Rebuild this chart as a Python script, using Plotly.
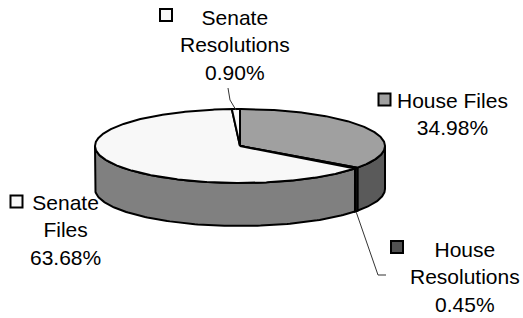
import numpy as np
import plotly.graph_objects as go

# ---- data ----
categories = ["House Files", "House Resolutions", "Senate Files", "Senate Resolutions"]
percentages = [34.98, 0.45, 63.68, 0.90]
top_colors = ["#A0A0A0", "#1E1E1E", "#F8F8F8", "#F8F8F8"]
side_colors = ["#5A5A5A", "#1E1E1E", "#808080", "#808080"]
legend_colors = ["#A0A0A0", "#505050", "#F8F8F8", "#F8F8F8"]
label_lines = [["House Files"], ["House", "Resolutions"], ["Senate", "Files"], ["Senate", "Resolutions"]]

# ---- layout geometry (pixels) ----
W, H = 523, 318
CX, CY, A, B, DEPTH = 240, 146, 145, 37, 43
FONT = dict(family="Liberation Sans, Arial, sans-serif", size=21, color="black")

label_pos = {  # text centre x, y ; legend key centre x, y
    "House Files": (452, 114, 384.5, 99.5),
    "House Resolutions": (465, 276.5, 397, 247),
    "Senate Files": (65, 230, 16.5, 201.5),
    "Senate Resolutions": (235, 44.5, 166, 15),
}


def pt(theta_deg, r=1.0, dy=0.0):
    t = np.radians(theta_deg)
    return CX + r * A * np.sin(t), CY - r * B * np.cos(t) + dy


fig = go.Figure()

# slice angles (clockwise from 12 o'clock)
total = sum(percentages)
bounds = []
start = 0.0
for p in percentages:
    end = start + 360.0 * p / total
    bounds.append((start, end))
    start = end

# side faces (only the front half, 90..270 deg, is visible)
for (s, e), col in zip(bounds, side_colors):
    lo, hi = max(s, 90.0), min(e, 270.0)
    if hi <= lo:
        continue
    th = np.linspace(lo, hi, 120)
    xt, yt = pt(th)
    xb, yb = pt(th[::-1], dy=DEPTH)
    xs = np.concatenate([xt, xb, xt[:1]])
    ys = np.concatenate([yt, yb, yt[:1]])
    fig.add_trace(go.Scatter(x=xs, y=ys, mode="lines", fill="toself", fillcolor=col,
                             line=dict(color="black", width=2), hoverinfo="skip", showlegend=False))

# top faces
for (s, e), col in zip(bounds, top_colors):
    th = np.linspace(s, e, max(int((e - s) * 2), 4))
    xa, ya = pt(th)
    xs = np.concatenate([[CX], xa, [CX]])
    ys = np.concatenate([[CY], ya, [CY]])
    fig.add_trace(go.Scatter(x=xs, y=ys, mode="lines", fill="toself", fillcolor=col,
                             line=dict(color="black", width=2), hoverinfo="skip", showlegend=False))

# leader lines
mid_sr = np.mean(bounds[3])
x0, y0 = pt(mid_sr, r=0.97)
fig.add_trace(go.Scatter(x=[x0, 230, 228], y=[y0, 100, 88], mode="lines",
                         line=dict(color="#333333", width=1), hoverinfo="skip", showlegend=False))
mid_hr = np.mean(bounds[1])
x1, y1 = pt(mid_hr, dy=DEPTH)
fig.add_trace(go.Scatter(x=[x1, 378, 386], y=[y1 + 1, 275, 275], mode="lines",
                         line=dict(color="#333333", width=1), hoverinfo="skip", showlegend=False))

# labels with legend keys
shapes = []
annotations = []
for cat, pct, lines, lcol in zip(categories, percentages, label_lines, legend_colors):
    tx, ty, kx, ky = label_pos[cat]
    text = "<br>".join(lines + [f"{pct:.2f}%"])
    annotations.append(dict(x=tx, y=ty, xref="x", yref="y", text=text, showarrow=False,
                            xanchor="center", yanchor="middle", align="center", font=FONT))
    k = 6
    shapes.append(dict(type="rect", xref="x", yref="y", x0=kx - k, x1=kx + k, y0=ky - k, y1=ky + k,
                       fillcolor=lcol, line=dict(color="black", width=2)))

fig.update_layout(
    width=W, height=H,
    margin=dict(l=0, r=0, t=0, b=0),
    paper_bgcolor="white", plot_bgcolor="white",
    xaxis=dict(range=[0, W], visible=False, fixedrange=True),
    yaxis=dict(range=[H, 0], visible=False, fixedrange=True),
    shapes=shapes, annotations=annotations,
    showlegend=False,
)

fig.write_html("out.html", config={"displayModeBar": False},
               post_script="document.body.style.margin='0';document.body.style.overflow='hidden';")
